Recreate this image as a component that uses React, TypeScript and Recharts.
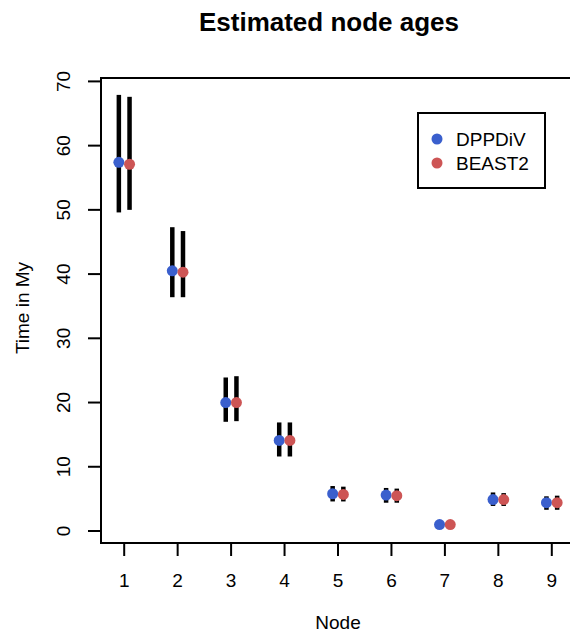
import { ScatterChart, Scatter, XAxis, YAxis, ErrorBar, ReferenceArea, Legend, Label, Customized } from "recharts";

// node ages (My)
const nodes = [1, 2, 3, 4, 5, 6, 7, 8, 9];
const dppdivMean = [57.4, 40.5, 20.0, 14.1, 5.8, 5.6, 1.0, 4.9, 4.4];
const dppdivLow = [49.6, 36.4, 17.0, 11.6, 4.6, 4.4, 0.9, 3.9, 3.3];
const dppdivHigh = [67.9, 47.3, 23.9, 16.9, 7.0, 6.7, 1.1, 6.0, 5.4];
const beastMean = [57.1, 40.3, 20.0, 14.1, 5.7, 5.5, 1.0, 4.9, 4.4];
const beastLow = [50.0, 36.4, 17.1, 11.6, 4.6, 4.4, 0.9, 3.9, 3.3];
const beastHigh = [67.6, 46.7, 24.1, 16.9, 6.9, 6.6, 1.1, 5.9, 5.5];

const yTicks = [0, 10, 20, 30, 40, 50, 60, 70];

const BLUE = "#3A5FCD";
const RED = "#CD5555";
const FONT = "'Liberation Sans', Arial, Helvetica, sans-serif";

const build = (mean: number[], low: number[], high: number[], shift: number) =>
  nodes.map((n, i) => ({
    x: n + shift,
    y: mean[i],
    err: [mean[i] - low[i], high[i] - mean[i]],
  }));

const dppdivData = build(dppdivMean, dppdivLow, dppdivHigh, -0.1);
const beastData = build(beastMean, beastLow, beastHigh, 0.1);

const dot = (fill: string) => (props: any) =>
  <circle cx={props.cx} cy={props.cy} r={5.5} fill={fill} />;

const XTick = (props: any) => (
  <text x={props.x} y={props.y + 29} textAnchor="middle" fontSize={19} fontFamily={FONT} fill="#000">
    {props.payload.value}
  </text>
);

const YTick = (props: any) => {
  const x = props.x - 16;
  return (
    <text x={x} y={props.y} transform={`rotate(-90 ${x} ${props.y})`} textAnchor="middle"
      fontSize={19} fontFamily={FONT} fill="#000">
      {props.payload.value}
    </text>
  );
};

const LegendBox = () => (
  <svg width={130} height={78}>
    <rect x={1} y={1} width={127} height={75} fill="#fff" stroke="#000" strokeWidth={2} />
    <circle cx={20} cy={27} r={5.5} fill={BLUE} />
    <circle cx={20} cy={51} r={5.5} fill={RED} />
    <text x={39} y={34} fontSize={19} fontFamily={FONT}>DPPDiV</text>
    <text x={39} y={58} fontSize={19} fontFamily={FONT}>BEAST2</text>
  </svg>
);

const Title = () => (
  <text x={329} y={31} textAnchor="middle" fontSize={26} fontWeight="bold" fontFamily={FONT} fill="#000">
    Estimated node ages
  </text>
);

export default function App() {
  return (
    <div style={{ position: "absolute", left: 0, top: 0, width: 570, height: 636, overflow: "hidden", background: "#fff" }}>
      <ScatterChart width={580} height={636} margin={{ top: 78, right: 5, bottom: 0, left: 0 }}>
        <XAxis
          type="number"
          dataKey="x"
          domain={[0.566, 9.434]}
          allowDataOverflow
          ticks={nodes}
          height={93}
          axisLine={false}
          tickSize={13}
          tickLine={{ stroke: "#000", strokeWidth: 2 }}
          tick={<XTick />}
        >
          <Label content={() => (
            <text x={338} y={629} textAnchor="middle" fontSize={19} fontFamily={FONT} fill="#000">Node</text>
          )} />
        </XAxis>
        <YAxis
          type="number"
          dataKey="y"
          domain={[-1.87, 70.53]}
          allowDataOverflow
          ticks={yTicks}
          width={101}
          axisLine={false}
          tickSize={13}
          tickLine={{ stroke: "#000", strokeWidth: 2 }}
          tick={<YTick />}
        >
          <Label content={() => (
            <text x={28.5} y={308} transform="rotate(-90 28.5 308)" textAnchor="middle" fontSize={19}
              fontFamily={FONT} fill="#000">Time in My</text>
          )} />
        </YAxis>
        <ReferenceArea x1={0.566} x2={9.434} y1={-1.87} y2={70.53} fill="none" stroke="#000" strokeWidth={2} fillOpacity={0} />
        <Scatter name="DPPDiV" data={dppdivData} shape={dot(BLUE)} isAnimationActive={false}>
          <ErrorBar dataKey="err" direction="y" width={0} stroke="#000" strokeWidth={4.5} isAnimationActive={false} />
        </Scatter>
        <Scatter name="BEAST2" data={beastData} shape={dot(RED)} isAnimationActive={false}>
          <ErrorBar dataKey="err" direction="y" width={0} stroke="#000" strokeWidth={4.5} isAnimationActive={false} />
        </Scatter>
        <Legend
          layout="vertical"
          align="center"
          verticalAlign="middle"
          content={<LegendBox />}
          wrapperStyle={{ left: 417, top: 112, width: 130, height: 78 }}
        />
        <Customized component={<Title />} />
      </ScatterChart>
    </div>
  );
}
